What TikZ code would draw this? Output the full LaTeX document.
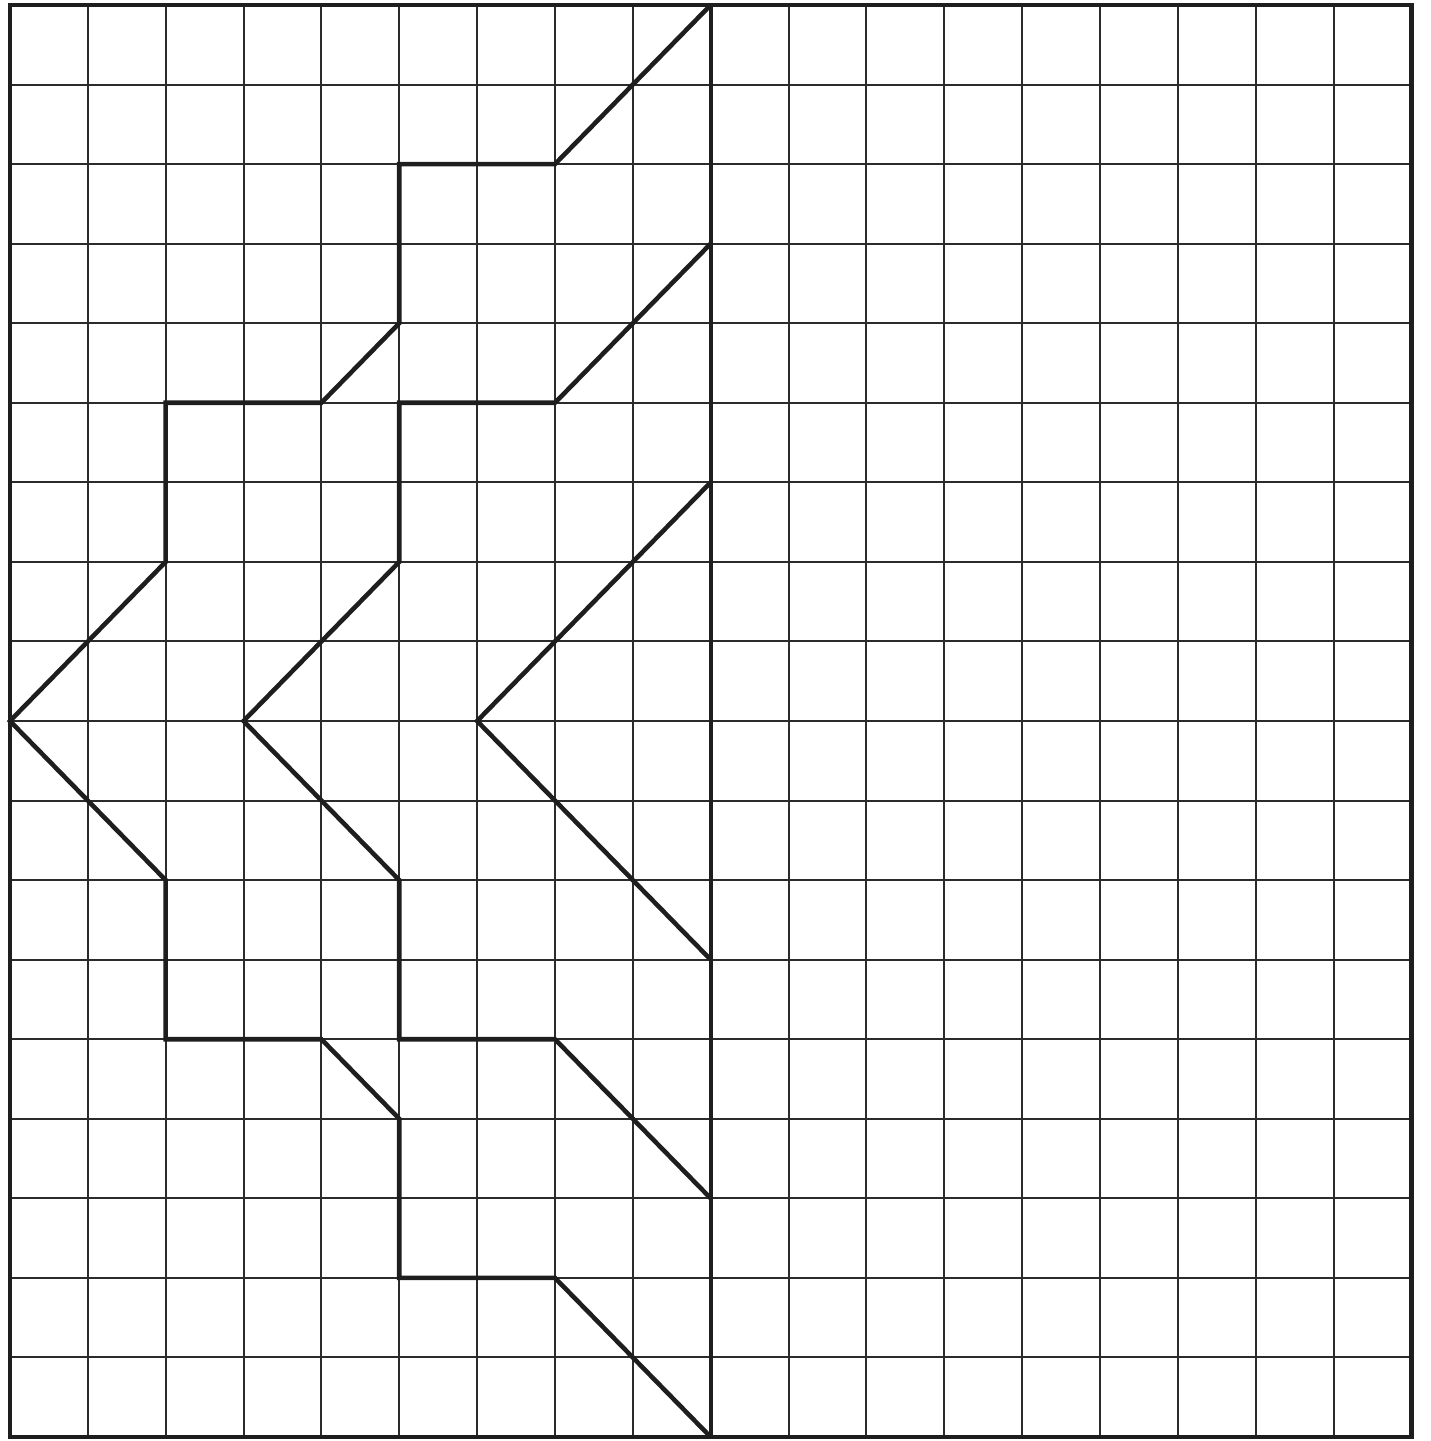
\documentclass[tikz,border=0pt]{standalone}
\usetikzlibrary{positioning}
\definecolor{gline}{HTML}{2B2B2B}
\definecolor{gink}{HTML}{1E1E1E}
\tikzset{
  gridln/.style={draw=gline,line width=0.55pt},
  frame/.style={draw=gink,line width=1.2pt},
  fig/.style={draw=gink,line width=1.3pt,line join=miter},
}
\begin{document}
\begin{tikzpicture}[x=0.779cm,y=0.796cm]
  \useasboundingbox (-0.128,-0.05) rectangle (18.24,18.063);
  % squared paper
  \foreach \i in {1,...,17} {
    \draw[gridln] (\i,0) -- (\i,18);
    \draw[gridln] (0,\i) -- (18,\i);
  }
  \draw[frame] (0,0) rectangle (18,18);
  \draw[frame] (9,0) -- (9,18);
  % half figure, left of the axis
  \draw[fig] (9,18) -- (7,16) -- (5,16) -- (5,14) -- (4,13) -- (2,13) -- (2,11)
    -- (0,9) -- (2,7) -- (2,5) -- (4,5) -- (5,4) -- (5,2) -- (7,2) -- (9,0);
  \draw[fig] (9,15) -- (7,13) -- (5,13) -- (5,11) -- (3,9) -- (5,7) -- (5,5)
    -- (7,5) -- (9,3);
  \draw[fig] (9,12) -- (6,9) -- (9,6);
\end{tikzpicture}
\end{document}
